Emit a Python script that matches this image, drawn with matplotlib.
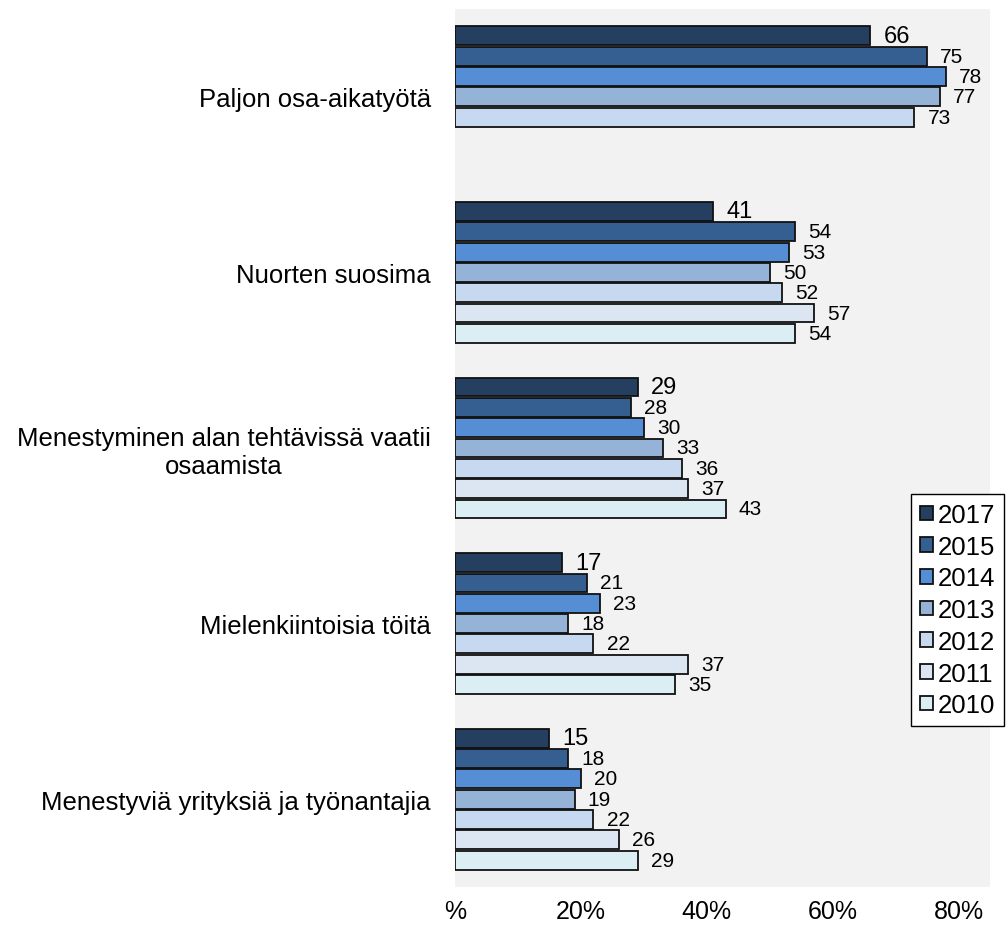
import matplotlib
matplotlib.use('Agg')
import matplotlib.pyplot as plt
import numpy as np

plt.rcParams['font.family'] = ['Liberation Sans', 'DejaVu Sans']

categories = ['Paljon osa-aikatyötä', 'Nuorten suosima',
              'Menestyminen alan tehtävissä vaatii\nosaamista',
              'Mielenkiintoisia töitä', 'Menestyviä yrityksiä ja työnantajia']
years = ['2017', '2015', '2014', '2013', '2012', '2011', '2010']
v2017 = [66, 41, 29, 17, 15]
v2015 = [75, 54, 28, 21, 18]
v2014 = [78, 53, 30, 23, 20]
v2013 = [77, 50, 33, 18, 19]
v2012 = [73, 52, 36, 22, 22]
v2011 = [np.nan, 57, 37, 37, 26]
v2010 = [np.nan, 54, 43, 35, 29]
series = [v2017, v2015, v2014, v2013, v2012, v2011, v2010]
colors = ['#253f60', '#355f91', '#558ed5', '#95b3d7', '#c6d9f1', '#dce6f2', '#dbeef4']
xticks = [0, 20, 40, 60, 80]
xticklabels = ['%', '20%', '40%', '60%', '80%']

fig = plt.figure(figsize=(10.08, 9.29), dpi=100)
ax = fig.add_axes([455 / 1008, 1 - 888 / 929, 535 / 1008, 878 / 929])
ax.set_facecolor('#f2f2f2')

y = np.arange(len(categories))
n = len(series)
group = 0.81
h = group / n
for i, (vals, col, yr) in enumerate(zip(series, colors, years)):
    pos = y - group / 2 + h * (i + 0.5)
    ax.barh(pos, vals, height=h * 0.93, color=col, edgecolor='#111111',
            linewidth=1.3, label=yr)
    for p, v in zip(pos, vals):
        if np.isnan(v):
            continue
        ax.annotate(f'{v:.0f}', (v, p), xytext=(9.5, 0), textcoords='offset points',
                    va='center', ha='left', fontsize=17 if i == 0 else 15)

ax.set_xlim(0, 85)
ax.set_ylim(len(categories) - 0.5, -0.5)
ax.set_yticks(y)
ax.set_yticklabels(categories, fontsize=18.5, ha='right')
for lbl in ax.get_yticklabels():
    lbl.set_multialignment('center')
    lbl.set_linespacing(1.2)
ax.set_xticks(xticks)
ax.set_xticklabels(xticklabels, fontsize=18)
ax.tick_params(length=0)
ax.tick_params(axis='x', pad=9)
ax.tick_params(axis='y', pad=17.5)
for s in ax.spines.values():
    s.set_visible(False)

leg = ax.legend(loc='upper left', bbox_to_anchor=(911 / 1008, 1 - 495 / 929),
                bbox_transform=fig.transFigure, fontsize=18.5, frameon=True,
                fancybox=False, handlelength=0.5, handleheight=0.5,
                handletextpad=0.2, labelspacing=0.3, borderpad=0.35,
                borderaxespad=0)
leg.get_frame().set_edgecolor('black')
leg.get_frame().set_linewidth(1.0)
leg.get_frame().set_alpha(None)
leg.get_frame().set_facecolor('white')

plt.savefig('out.png', dpi=100)
